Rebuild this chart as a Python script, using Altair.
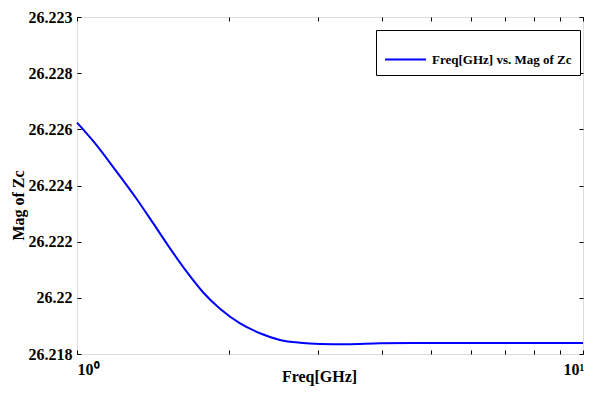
import altair as alt
import pandas as pd

freq = [1.0, 1.080, 1.183, 1.312, 1.415, 1.527, 1.647, 1.776, 1.917,
        2.100, 2.300, 2.519, 2.759, 3.021, 3.412, 3.971, 4.985, 6.752, 10.0]
mag = [26.22624, 26.22555, 26.22462, 26.22352, 26.22265, 26.22176,
       26.22093, 26.22019, 26.21961, 26.21909, 26.21874, 26.21850, 26.21840,
       26.21836, 26.21835, 26.21838, 26.21839, 26.21839, 26.21839]
series_name = "Freq[GHz] vs. Mag of Zc"
x_ticks = [1, 2, 3, 4, 5, 6, 7, 8, 9, 10]
y_ticks = [26.218, 26.22, 26.222, 26.224, 26.226, 26.228, 26.23]

df = pd.DataFrame({"freq": freq, "mag": mag, "series": series_name})

FONT = "Liberation Serif"

xscale = alt.Scale(type="log", domain=[1, 10], nice=False)
yscale = alt.Scale(domain=[26.218, 26.23], nice=False, zero=False)

main = alt.Chart(df).mark_line(strokeWidth=2, interpolate="monotone").encode(
    x=alt.X("freq:Q", scale=xscale,
            axis=alt.Axis(orient="bottom", values=x_ticks, title="Freq[GHz]",
                          labelExpr="datum.value == 1 ? '10⁰' : datum.value == 10 ? '10¹' : ''",
                          labelAlign="left",
                          labelOffset={"condition": {"test": "datum.value == 10", "value": -20}, "value": 0},
                          labelFlush=False, labelOverlap=False,
                          tickSize=4, offset=-4, domain=False, grid=False,
                          tickColor="black", labelColor="black", labelPadding=7,
                          labelFont=FONT, labelFontWeight="bold", labelFontSize=16,
                          titleFont=FONT, titleFontWeight="bold", titleFontSize=16,
                          titleColor="black", titleX=242, titleY=26,
                          titleBaseline="middle", titleAlign="center")),
    y=alt.Y("mag:Q", scale=yscale,
            axis=alt.Axis(orient="left", values=y_ticks, title="Mag of Zc",
                          labelExpr="datum.value > 26.2295 ? '26.223' : format(datum.value, '.3~f')",
                          tickSize=4, offset=-4, domain=False, grid=False,
                          tickColor="black", labelColor="black", labelPadding=5,
                          labelFont=FONT, labelFontWeight="bold", labelFontSize=16,
                          labelBaseline="middle", labelFlush=False, labelOverlap=False,
                          titleFont=FONT, titleFontWeight="bold", titleFontSize=16,
                          titleColor="black", titleX=-63, titleY=188,
                          titleBaseline="middle", titleAlign="center")),
    color=alt.Color("series:N", scale=alt.Scale(range=["#0000ff"]),
                    legend=alt.Legend(orient="none", legendX=299, legendY=13,
                                      title=None, symbolType="stroke",
                                      symbolStrokeWidth=2, symbolSize=1681,
                                      labelFont=FONT, labelFontWeight="bold",
                                      labelFontSize=13, labelColor="black",
                                      labelOffset=5, labelLimit=400,
                                      strokeColor="black", fillColor="white",
                                      padding=8, cornerRadius=0)),
)

mirror = alt.Chart(df).mark_line(opacity=0).encode(
    x=alt.X("freq:Q", scale=xscale,
            axis=alt.Axis(orient="top", values=x_ticks, title=None, labels=False,
                          tickSize=4, offset=-4, domain=False, grid=False,
                          tickColor="black")),
    y=alt.Y("mag:Q", scale=yscale,
            axis=alt.Axis(orient="right", values=y_ticks, title=None, labels=False,
                          tickSize=4, offset=-4, domain=False, grid=False,
                          tickColor="black")),
)

chart = alt.layer(main, mirror).resolve_axis(x="independent", y="independent").properties(
    width=506, height=337,
    autosize=alt.AutoSizeParams(type="none"),
    padding={"left": 69, "top": 9, "right": 1, "bottom": 33},
).configure_view(stroke="black", strokeWidth=1).configure(
    background="white", font=FONT
).configure_axis(labelFont=FONT, titleFont=FONT).configure_legend(labelFont=FONT)

chart.save("out.html", embed_options={"renderer": "svg", "actions": False})
